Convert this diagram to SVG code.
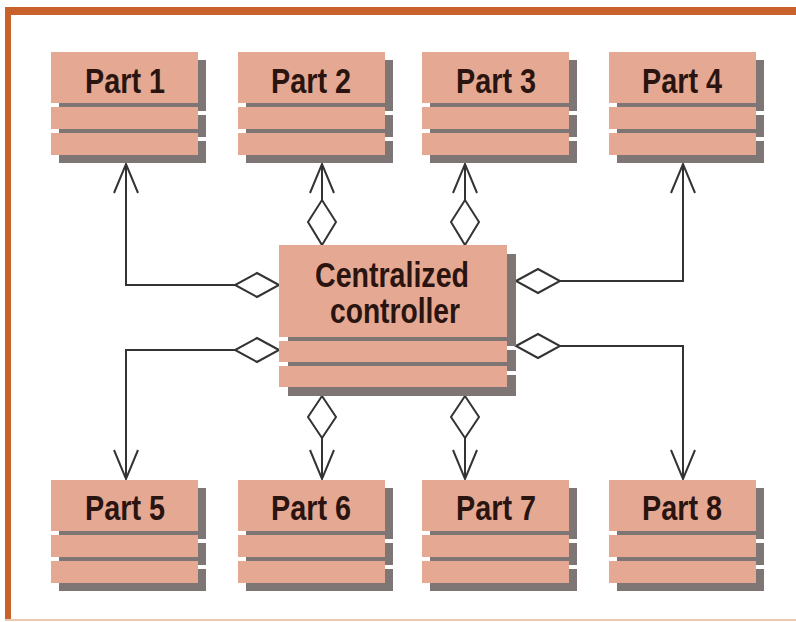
<svg xmlns="http://www.w3.org/2000/svg" width="796" height="622" viewBox="0 0 796 622">
<defs>
<style>
.c{fill:#e5a893}
.s{fill:#7e7674}
.t{font-family:"Liberation Sans",Arial,sans-serif;font-weight:bold;font-size:35px;fill:#2a1410;text-anchor:middle}
.ln{fill:none;stroke:#333333;stroke-width:2}
.dm{fill:#ffffff;stroke:#333333;stroke-width:2;stroke-linejoin:miter}
</style>
<g id="part">
<rect class="s" x="8" y="8" width="147" height="51"/>
<rect class="c" x="0" y="0" width="147" height="51"/>
<rect class="s" x="8" y="63" width="147" height="22"/>
<rect class="c" x="0" y="55" width="147" height="22"/>
<rect class="s" x="8" y="89" width="147" height="22"/>
<rect class="c" x="0" y="81" width="147" height="22"/>
</g>
</defs>
<rect x="0" y="0" width="796" height="622" fill="#ffffff"/>
<g id="frame">
<rect x="5" y="7" width="791" height="8" fill="#c9612c"/>
<rect x="5" y="7" width="6" height="614" fill="#c9612c"/>
<rect x="5" y="619" width="791" height="2" fill="#ecc7b2"/>
</g>
<g id="connectors">
<polyline class="ln" points="235,285 126,285 126,164"/>
<polyline class="ln" points="114,193 126,164 138,193"/>
<line class="ln" x1="322" y1="200" x2="322" y2="164"/>
<polyline class="ln" points="310,193 322,164 334,193"/>
<line class="ln" x1="465" y1="200" x2="465" y2="164"/>
<polyline class="ln" points="453,193 465,164 477,193"/>
<polyline class="ln" points="560,281 683,281 683,164"/>
<polyline class="ln" points="671,193 683,164 695,193"/>
<polyline class="ln" points="235,350 126,350 126,479"/>
<polyline class="ln" points="114,450 126,479 138,450"/>
<line class="ln" x1="322" y1="438" x2="322" y2="479"/>
<polyline class="ln" points="310,450 322,479 334,450"/>
<line class="ln" x1="465" y1="438" x2="465" y2="479"/>
<polyline class="ln" points="453,450 465,479 477,450"/>
<polyline class="ln" points="560,346 683,346 683,479"/>
<polyline class="ln" points="671,450 683,479 695,450"/>
<polygon class="dm" points="279,285 257,273 235,285 257,297"/>
<polygon class="dm" points="279,350 257,338 235,350 257,362"/>
<polygon class="dm" points="516,281 538,269 560,281 538,293"/>
<polygon class="dm" points="516,346 538,334 560,346 538,358"/>
<polygon class="dm" points="322,245 336,222 322,200 308,222"/>
<polygon class="dm" points="465,245 479,222 465,200 451,222"/>
<polygon class="dm" points="322,396 336,417 322,438 308,417"/>
<polygon class="dm" points="465,396 479,417 465,438 451,417"/>
</g>
<g id="controller">
<rect class="s" x="288" y="254" width="228" height="92"/>
<rect class="c" x="279" y="245" width="228" height="92"/>
<rect class="s" x="288" y="350" width="228" height="21"/>
<rect class="c" x="279" y="341" width="228" height="21"/>
<rect class="s" x="288" y="375" width="228" height="21"/>
<rect class="c" x="279" y="366" width="228" height="21"/>
<text class="t" x="392" y="287" textLength="154" lengthAdjust="spacingAndGlyphs">Centralized</text>
<text class="t" x="395" y="323" textLength="130" lengthAdjust="spacingAndGlyphs">controller</text>
</g>
<g id="part1"><use href="#part" x="51" y="52"/><text class="t" x="125" y="93" textLength="80" lengthAdjust="spacingAndGlyphs">Part 1</text></g>
<g id="part2"><use href="#part" x="238" y="52"/><text class="t" x="311" y="93" textLength="80" lengthAdjust="spacingAndGlyphs">Part 2</text></g>
<g id="part3"><use href="#part" x="422" y="52"/><text class="t" x="496" y="93" textLength="80" lengthAdjust="spacingAndGlyphs">Part 3</text></g>
<g id="part4"><use href="#part" x="609" y="52"/><text class="t" x="682" y="93" textLength="80" lengthAdjust="spacingAndGlyphs">Part 4</text></g>
<g id="part5"><use href="#part" x="51" y="480"/><text class="t" x="125" y="520" textLength="80" lengthAdjust="spacingAndGlyphs">Part 5</text></g>
<g id="part6"><use href="#part" x="238" y="480"/><text class="t" x="311" y="520" textLength="80" lengthAdjust="spacingAndGlyphs">Part 6</text></g>
<g id="part7"><use href="#part" x="422" y="480"/><text class="t" x="496" y="520" textLength="80" lengthAdjust="spacingAndGlyphs">Part 7</text></g>
<g id="part8"><use href="#part" x="609" y="480"/><text class="t" x="682" y="520" textLength="80" lengthAdjust="spacingAndGlyphs">Part 8</text></g>
</svg>
